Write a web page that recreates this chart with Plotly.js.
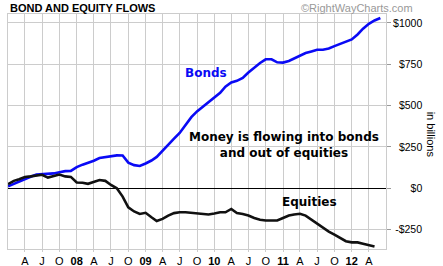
<!DOCTYPE html>
<html>
<head>
<meta charset="utf-8">
<script src="https://cdn.plot.ly/plotly-3.0.1.min.js"></script>
<style>html,body{margin:0;padding:0;background:#fff;}#chart{width:443px;height:266px;}</style>
</head>
<body>
<div id="chart"></div>
<script>
// Monthly data, starting January 2007 (values in $ billions, cumulative flows)
var startYear = 2007;
var bonds = [12, 28, 43, 59, 70, 83, 86, 85, 90, 97, 104, 105,
             128, 143, 153, 167, 183, 188, 190, 199, 198, 155, 140, 135,
             150, 168, 190, 225, 262, 300, 335, 385, 430, 465, 492, 520,
             550, 577, 615, 640, 650, 668, 700, 730, 758, 780, 780, 762,
             760, 770, 785, 800, 818, 828, 838, 838, 845, 860, 875, 885,
             900, 930, 965, 995, 1015, 1030];
var equities = [25, 45, 55, 68, 72, 75, 82, 65, 72, 83, 72, 69,
                35, 34, 27, 38, 50, 45, 20, 0, -50, -115, -140, -155,
                -148, -175, -198, -185, -165, -150, -145, -145, -148, -154, -155, -158,
                -152, -145, -145, -125, -150, -155, -165, -180, -190, -195, -195, -195,
                -180, -165, -158, -154, -165, -190, -215, -240, -262, -280, -300, -320,
                -327, -327, -335, -343, -352];

var xTickVals = ['2007-04-01','2007-07-01','2007-10-01','2008-01-01','2008-04-01','2008-07-01','2008-10-01',
                 '2009-01-01','2009-04-01','2009-07-01','2009-10-01','2010-01-01','2010-04-01','2010-07-01',
                 '2010-10-01','2011-01-01','2011-04-01','2011-07-01','2011-10-01','2012-01-01','2012-04-01'];
var xTickText = ['A','J','O','<b>08</b>','A','J','O','<b>09</b>','A','J','O','<b>10</b>','A','J','O',
                 '<b>11</b>','A','J','O','<b>12</b>','A'];
var yTickVals = [1000, 750, 500, 250, 0, -250];
var yTickText = ['$1000', '\u2007$750', '\u2007$500', '\u2007$250', '\u2007\u2007\u2007$0', '\u2009-$250'];

function monthDates(n) {
  var out = [];
  for (var i = 0; i < n; i++) {
    var y = startYear + Math.floor(i / 12);
    var m = (i % 12) + 1;
    out.push(y + '-' + (m < 10 ? '0' + m : m) + '-01');
  }
  return out;
}

var traces = [
  {x: monthDates(bonds.length), y: bonds, type: 'scatter', mode: 'lines',
   line: {color: '#0a0af5', width: 2.6}, hoverinfo: 'skip'},
  {x: monthDates(equities.length), y: equities, type: 'scatter', mode: 'lines',
   line: {color: '#111111', width: 2.6}, hoverinfo: 'skip'}
];

var annFont = {family: 'DejaVu Sans, Verdana, sans-serif', size: 12, weight: 'bold', color: '#000'};

var layout = {
  width: 443, height: 266,
  margin: {l: 8, r: 57, t: 14, b: 17, pad: 0},
  paper_bgcolor: '#ffffff', plot_bgcolor: '#ffffff',
  showlegend: false,
  title: {text: 'BOND AND EQUITY FLOWS', xref: 'container', yref: 'container',
          x: 10 / 443, xanchor: 'left', y: 1 - 8 / 266, yanchor: 'middle',
          font: {family: 'Liberation Sans, Arial, sans-serif', size: 11, weight: 'bold', color: '#000'}},
  xaxis: {
    type: 'date', range: ['2007-01-01', '2012-07-01'],
    tickmode: 'array', tickvals: xTickVals, ticktext: xTickText,
    ticks: 'outside', ticklen: 2, tickcolor: '#cccccc', tickwidth: 1,
    showgrid: true, gridcolor: '#cccccc', gridwidth: 1,
    showline: true, linecolor: '#cccccc', linewidth: 1, mirror: true,
    tickfont: {family: 'Liberation Sans, Arial, sans-serif', size: 11, color: '#000'},
    zeroline: false, fixedrange: true
  },
  yaxis: {
    side: 'right', range: [-367, 1054],
    tickmode: 'array', tickvals: yTickVals, ticktext: yTickText,
    ticks: 'outside', ticklen: 4, tickcolor: '#999999', tickwidth: 1,
    showgrid: true, gridcolor: '#cccccc', gridwidth: 1,
    showline: true, linecolor: '#cccccc', linewidth: 1, mirror: true,
    zeroline: true, zerolinecolor: '#000000', zerolinewidth: 1,
    tickfont: {family: 'Liberation Sans, Arial, sans-serif', size: 10.5, color: '#000'},
    fixedrange: true
  },
  annotations: [
    {text: '©RightWayCharts.com', xref: 'paper', yref: 'paper', x: (299 - 8) / 377.7, y: 1 + 6 / 235,
     xanchor: 'left', yanchor: 'middle', showarrow: false,
     font: {family: 'Liberation Sans, Arial, sans-serif', size: 11, color: '#999999'}},
    {text: 'Bonds', xref: 'x', yref: 'y', x: '2009-11-20', y: 697, showarrow: false,
     xanchor: 'center', yanchor: 'middle',
     font: {family: 'DejaVu Sans, Verdana, sans-serif', size: 12, weight: 'bold', color: '#0a0af5'}},
    {text: 'Money is flowing into bonds<br>and out of equities', xref: 'x', yref: 'y',
     x: '2011-01-04', y: 259, showarrow: false, xanchor: 'center', yanchor: 'middle', align: 'center',
     font: annFont},
    {text: 'Equities', xref: 'x', yref: 'y', x: '2011-05-21', y: -80, showarrow: false,
     xanchor: 'center', yanchor: 'middle', font: annFont},
    {text: 'in billions', xref: 'paper', yref: 'paper', x: (431 - 8) / 377.7, y: (249 - 135) / 235,
     xanchor: 'center', yanchor: 'middle', textangle: 90, showarrow: false,
     font: {family: 'Liberation Sans, Arial, sans-serif', size: 11, color: '#000'}}
  ]
};

Plotly.newPlot('chart', traces, layout, {displayModeBar: false, staticPlot: true});
</script>
</body>
</html>
